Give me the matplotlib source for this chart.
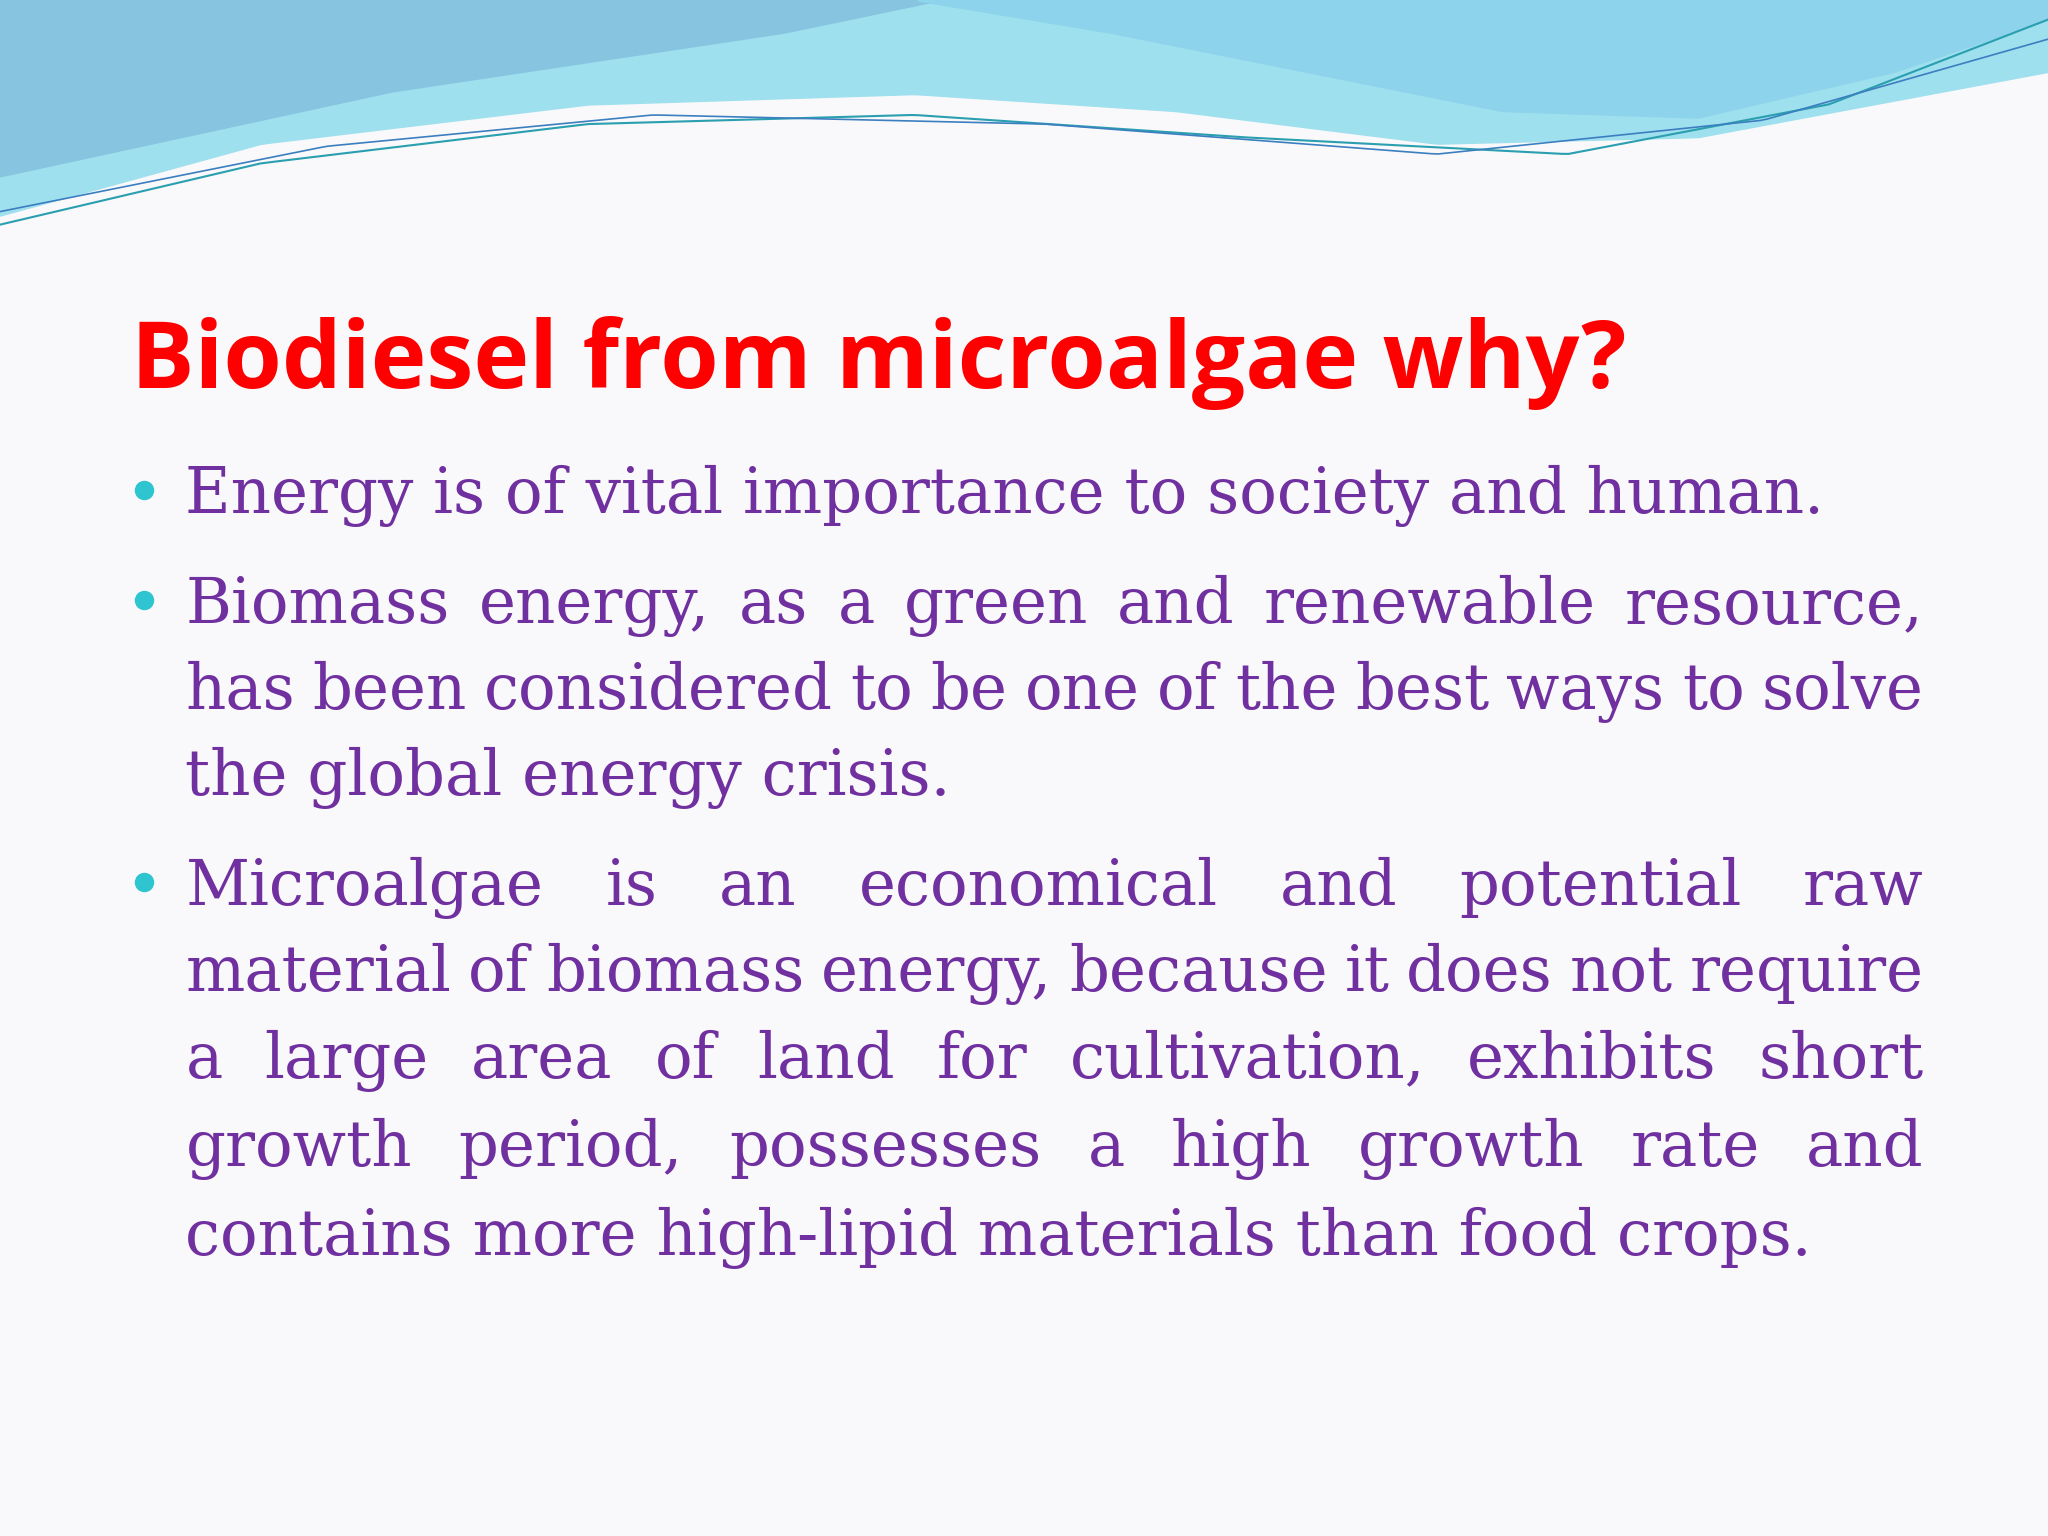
import numpy as np
import matplotlib
matplotlib.use("Agg")
import matplotlib.pyplot as plt

W, H = 1568, 1176  # slide coordinate space

title = "Biodiesel from microalgae why?"
# (text, baseline y, justified, bullet)
lines = [
    ("Energy is of vital importance to society and human.", 393, False, True),
    ("Biomass energy, as a green and renewable resource,", 477, True, True),
    ("has been considered to be one of the best ways to solve", 543, True, False),
    ("the global energy crisis.", 609, False, False),
    ("Microalgae is an economical and potential raw", 693, True, True),
    ("material of biomass energy, because it does not require", 759, True, False),
    ("a large area of land for cultivation, exhibits short", 825, True, False),
    ("growth period, possesses a high growth rate and", 893, True, False),
    ("contains more high-lipid materials than food crops.", 961, False, False),
]

TITLE_RED = "#FF0000"
BODY = "#7030A0"
BULLET = "#2EC4D0"
X_LEFT, X_RIGHT = 142, 1473

fig = plt.figure(figsize=(20.48, 15.36), dpi=100)
fig.patch.set_facecolor("#F9F9FB")
ax = fig.add_axes([0, 0, 1, 1])
ax.set_xlim(0, W)
ax.set_ylim(H, 0)
ax.axis("off")

# header waves
x = np.linspace(0, W, 300)
upper = np.zeros_like(x)
wave1 = np.interp(x, [0, 200, 450, 700, 900, 1100, 1300, 1568], [165, 110, 80, 72, 85, 110, 105, 55])
ax.fill_between(x, upper, wave1, color="#9FE0EE", zorder=1)
wave2 = np.interp(x, [0, 300, 600, 720, 900, 1100, 1300, 1568], [135, 70, 25, 0, 0, 0, 0, 0])
ax.fill_between(x, upper, wave2, color="#86C4E0", zorder=2)
wave3 = np.interp(x, [700, 850, 1000, 1150, 1300, 1450, 1568], [0, 25, 55, 85, 90, 55, 15])
m = x >= 700
ax.fill_between(x[m], upper[m], wave3[m], color="#8ED3EC", zorder=3)
ax.plot(x, np.interp(x, [0, 200, 450, 700, 950, 1200, 1400, 1568], [172, 125, 95, 88, 105, 118, 80, 15]),
        color="#2A9FB0", lw=1.5, zorder=4)
ax.plot(x, np.interp(x, [0, 250, 500, 800, 1100, 1350, 1568], [162, 112, 88, 95, 118, 92, 30]),
        color="#3C7FC0", lw=1.2, zorder=4)

ax.text(100, 297, title, color=TITLE_RED, fontsize=68, fontweight="bold",
        family="Open Sans", va="baseline", ha="left")

fs = 45
fam = "DejaVu Serif"
fig.canvas.draw()
r = fig.canvas.get_renderer()
inv = ax.transData.inverted()

def width(s):
    t = ax.text(0, 0, s, fontsize=fs, family=fam)
    bb = t.get_window_extent(renderer=r)
    t.remove()
    return (inv.transform((bb.x1, 0))[0] - inv.transform((bb.x0, 0))[0])

for text, y, just, bullet in lines:
    if bullet:
        ax.plot(110, y - 18, "o", ms=13, color=BULLET)
    if not just:
        ax.text(X_LEFT, y, text, fontsize=fs, family=fam, color=BODY, va="baseline")
        continue
    words = text.split()
    ws = [width(w) for w in words]
    gap = (X_RIGHT - X_LEFT - sum(ws)) / (len(words) - 1)
    xx = X_LEFT
    for w, wd in zip(words, ws):
        ax.text(xx, y, w, fontsize=fs, family=fam, color=BODY, va="baseline")
        xx += wd + gap

fig.savefig("out.png", dpi=100, facecolor=fig.get_facecolor())
